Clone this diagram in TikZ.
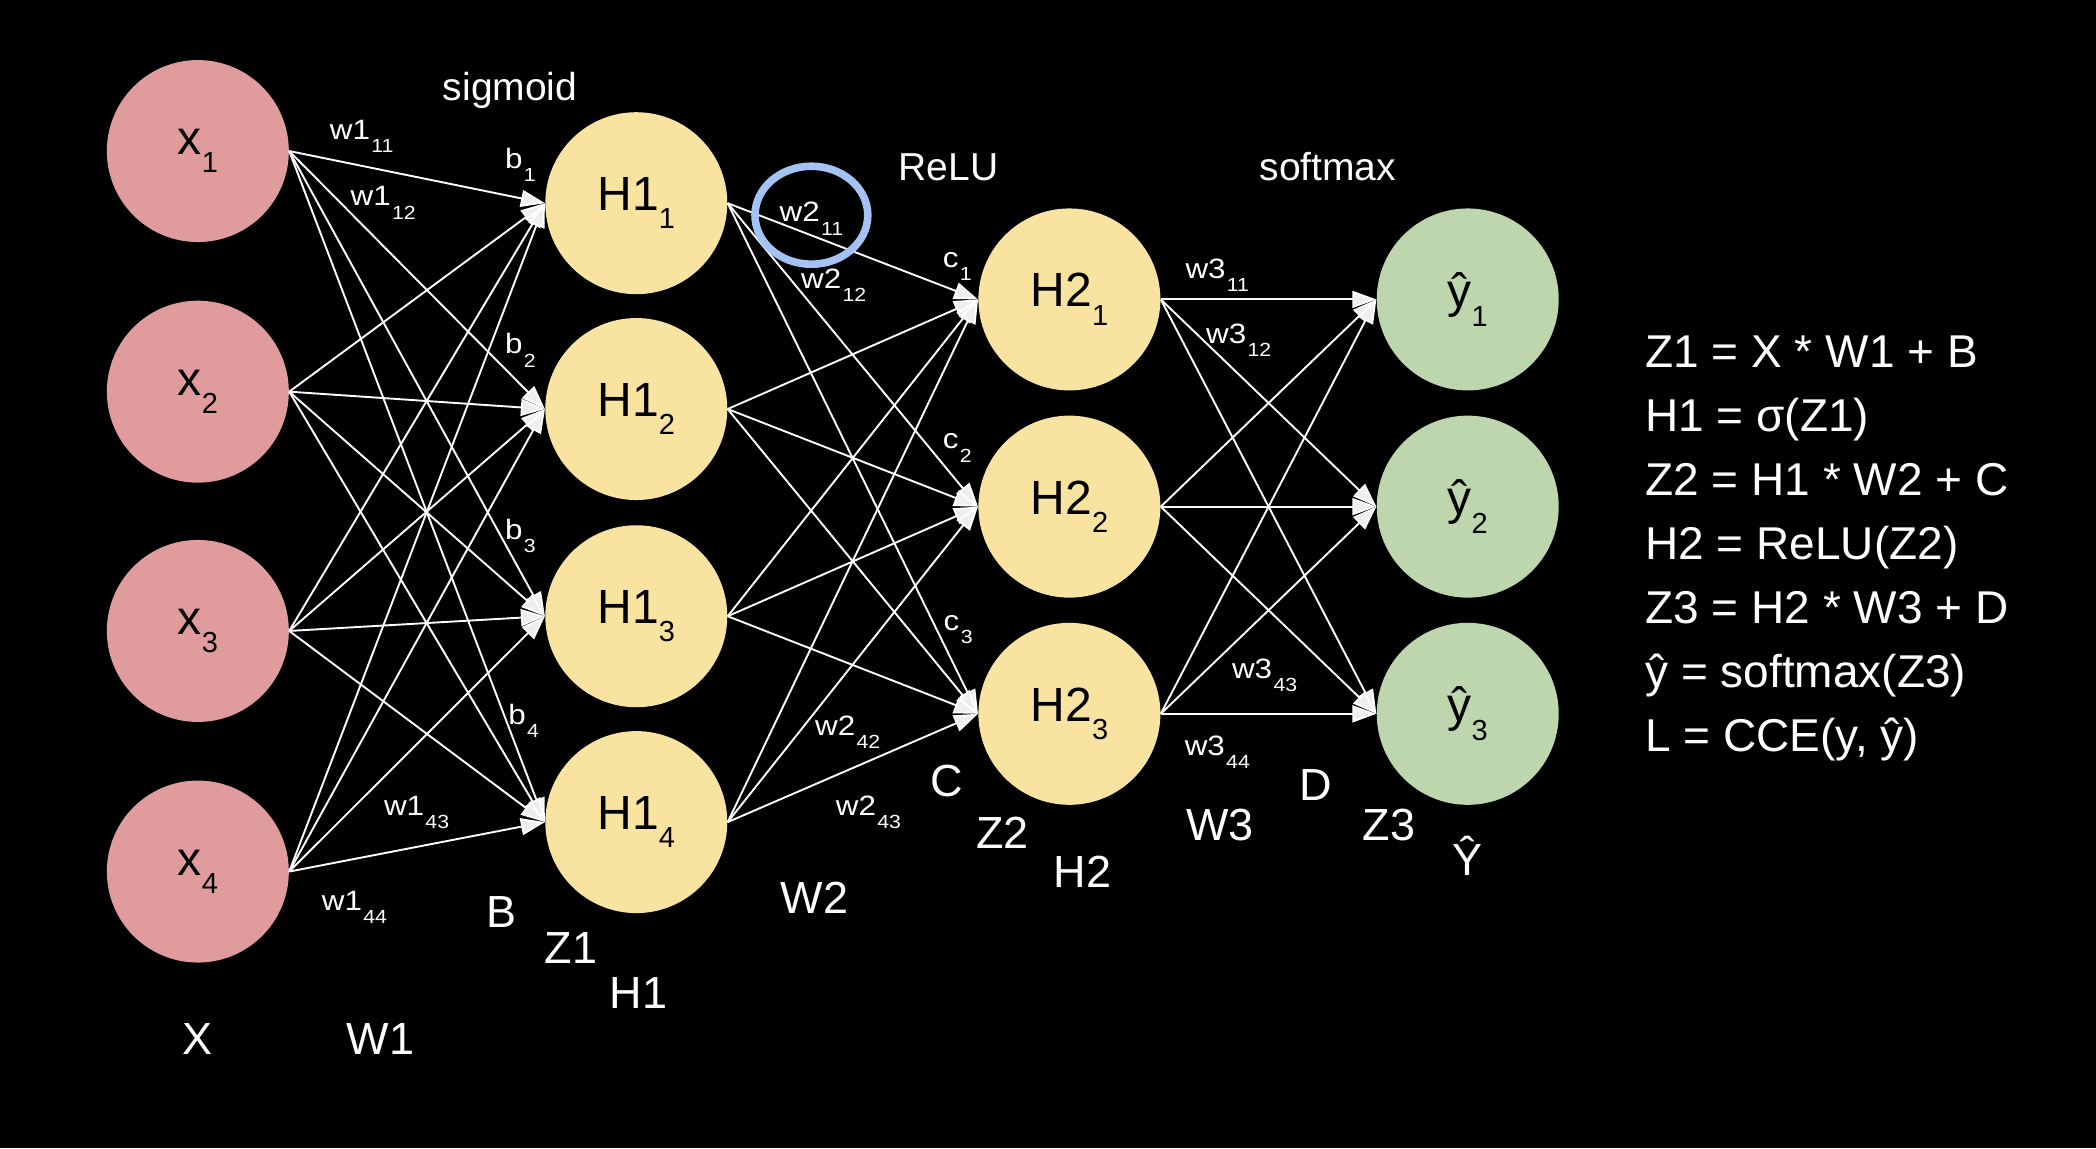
\documentclass[tikz,border=0pt]{standalone}
\usepackage{fontspec}
\setmainfont{Liberation Sans}
\usetikzlibrary{arrows.meta}
\definecolor{inred}{HTML}{E09C9C}
\definecolor{hyel}{HTML}{F9E3A0}
\definecolor{ogreen}{HTML}{BDD6AE}
\definecolor{hlblue}{HTML}{A4C2F4}
\definecolor{arrfill}{HTML}{EEEEEE}
\newcommand\nsub[1]{\raisebox{-9.2pt}{\fontsize{14.5}{14.5}\selectfont #1}}
\newcommand\wl[2]{\scalebox{1.12}[1]{#1\kern0.6pt\raisebox{-6.7pt}{\fontsize{9.5}{9.5}\selectfont #2}}}
\begin{document}
\begin{tikzpicture}[x=0.6684pt,y=-0.6684pt,
  neuron/.style={circle, minimum size=91pt, inner sep=0pt, draw=none, text=black,
    font=\fontsize{24}{24}\selectfont},
  inp/.style={neuron, fill=inred},
  hid/.style={neuron, fill=hyel},
  outn/.style={neuron, fill=ogreen},
  conn/.style={draw=white, line width=0.95pt,
    -{Triangle[length=12pt,width=8.5pt,fill=arrfill]}},
  wlab/.style={text=white, font=\fontsize{14}{14}\selectfont, inner sep=0pt, anchor=base west},
  biglab/.style={text=white, font=\fontsize{22.5}{22.5}\selectfont, inner sep=0pt, anchor=base west},
  actlab/.style={text=white, font=\fontsize{19.5}{19.5}\selectfont, inner sep=0pt, anchor=base west},
  eqlab/.style={text=white, font=\fontsize{23}{23}\selectfont, inner sep=0pt, anchor=base west},
]
\fill[black] (0,0) rectangle (1568,859);

% neurons
\node[inp] (x1) at (148,113) {x\nsub{1}};
\node[inp] (x2) at (148,293) {x\nsub{2}};
\node[inp] (x3) at (148,472) {x\nsub{3}};
\node[inp] (x4) at (148,652) {x\nsub{4}};

\node[hid] (h11) at (476,152) {H1\nsub{1}};
\node[hid] (h12) at (476,306) {H1\nsub{2}};
\node[hid] (h13) at (476,461) {H1\nsub{3}};
\node[hid] (h14) at (476,615) {H1\nsub{4}};

\node[hid] (h21) at (800,224) {H2\nsub{1}};
\node[hid] (h22) at (800,379) {H2\nsub{2}};
\node[hid] (h23) at (800,534) {H2\nsub{3}};

\node[outn] (y1) at (1098,224) {ŷ\nsub{1}};
\node[outn] (y2) at (1098,379) {ŷ\nsub{2}};
\node[outn] (y3) at (1098,534) {ŷ\nsub{3}};

% connectors
\foreach \i in {1,...,4}{\foreach \j in {1,...,4}{\draw[conn] (x\i.east) -- (h1\j.west);}}
\foreach \i in {1,...,4}{\foreach \j in {1,...,3}{\draw[conn] (h1\i.east) -- (h2\j.west);}}
\foreach \i in {1,...,3}{\foreach \j in {1,...,3}{\draw[conn] (h2\i.east) -- (y\j.west);}}

% highlight
\draw[hlblue, line width=3.8pt] (607,161) ellipse [x radius=28.2pt, y radius=24.5pt];

% activation labels
\node[actlab] (lsig) at (331,75) {sigmoid};
\node[actlab] (lrelu) at (672,135) {ReLU};
\node[actlab] (lsoft) at (942,135) {softmax};

% weight / bias labels
\node[wlab] (lw111) at (246.5,104) {\wl{w1}{11}};
\node[wlab] (lw112) at (262,154) {\wl{w1}{12}};
\node[wlab] (lw143) at (287,610) {\wl{w1}{43}};
\node[wlab] (lw144) at (240.5,681) {\wl{w1}{44}};
\node[wlab] (lb1) at (377.5,126) {\wl{b}{1}};
\node[wlab] (lb2) at (377.5,264.6) {\wl{b}{2}};
\node[wlab] (lb3) at (377.5,403.3) {\wl{b}{3}};
\node[wlab] (lb4) at (380,542) {\wl{b}{4}};

\node[wlab] (lw211) at (583,166) {\wl{w2}{11}};
\node[wlab] (lw212) at (599,215.6) {\wl{w2}{12}};
\node[wlab] (lw242) at (609.5,550) {\wl{w2}{42}};
\node[wlab] (lw243) at (625,610) {\wl{w2}{43}};
\node[wlab] (lc1) at (705,200) {\wl{c}{1}};
\node[wlab] (lc2) at (705,335.7) {\wl{c}{2}};
\node[wlab] (lc3) at (705.7,471.3) {\wl{c}{3}};

\node[wlab] (lw311) at (886.6,208) {\wl{w3}{11}};
\node[wlab] (lw312) at (902,256.8) {\wl{w3}{12}};
\node[wlab] (lw343) at (921.4,507.5) {\wl{w3}{43}};
\node[wlab] (lw344) at (886,565) {\wl{w3}{44}};

% matrix labels
\node[biglab] (lX) at (136,789) {X};
\node[biglab] (lW1) at (259,789) {W1};
\node[biglab] (lB) at (364,693.7) {B};
\node[biglab] (lZ1) at (407.4,720.7) {Z1};
\node[biglab] (lH1) at (455.8,754.4) {H1};
\node[biglab] (lW2) at (583.8,683.3) {W2};
\node[biglab] (lC) at (696,595.5) {C};
\node[biglab] (lZ2) at (730,634.6) {Z2};
\node[biglab] (lH2) at (787.9,663.9) {H2};
\node[biglab] (lW3) at (887,628.5) {W3};
\node[biglab] (lD) at (972,598.5) {D};
\node[biglab] (lZ3) at (1019,628.5) {Z3};
\node[biglab] (lY) at (1086.4,654.6) {Ŷ};

% equations
\node[eqlab] (e1) at (1230.6,274.8) {Z1 = X * W1 + B};
\node[eqlab] (e2) at (1230.6,322.7) {H1 = σ(Z1)};
\node[eqlab] (e3) at (1230.6,370.6) {Z2 = H1 * W2 + C};
\node[eqlab] (e4) at (1230.6,418.5) {H2 = ReLU(Z2)};
\node[eqlab] (e5) at (1230.6,466.4) {Z3 = H2 * W3 + D};
\node[eqlab] (e6) at (1230.6,514.3) {ŷ = softmax(Z3)};
\node[eqlab] (e7) at (1230.6,562.2) {L = CCE(y, ŷ)};
\end{tikzpicture}
\end{document}
